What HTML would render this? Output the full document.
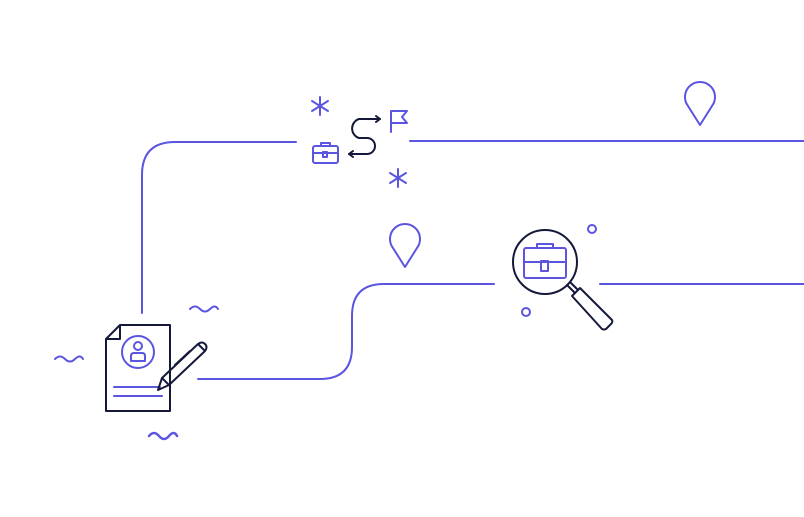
<!DOCTYPE html>
<html><head><style>html,body{margin:0;padding:0;background:#fff;}svg{display:block}</style></head>
<body>
<svg width="804" height="517" viewBox="0 0 804 517" xmlns="http://www.w3.org/2000/svg" fill="none" stroke-linecap="round" stroke-linejoin="round">
<g stroke="#5b55e0" stroke-width="2">
<path d="M142 313 V175 Q142 142 175 142 H296"/>
<path d="M410 141 H804"/>
<path d="M198 379 H320 Q352 379 352 347 V316 Q352 284 384 284 H494"/>
<path d="M600 284 H804"/>
<path d="M700 125 L688 106 A15 15 0 1 1 712 106 Z"/>
<path d="M405 267 L393 248 A15 15 0 1 1 417 248 Z"/>
<circle cx="592" cy="229" r="4"/>
<circle cx="526" cy="312" r="4"/>
<path d="M55 359 q5 -5 10 0 t10 0 t8 0"/>
<path d="M190 309 q5 -5 10 0 t10 0 t8 0"/>
<path d="M149 436 q5 -6 10 0 t10 0 t8 0" stroke-width="2.5"/>
<path d="M320 97 V115 M312 101 L328 111 M312 111 L328 101"/>
<path d="M398 169 V187 M390 173 L406 183 M390 183 L406 173"/>
<path d="M391 132 V111 H407 L402 117 L407 123 H391"/>
<rect x="313" y="146" width="25" height="17" rx="2"/>
<path d="M313 153 H338 M321 146 V143 H330 V146"/>
<rect x="323" y="152" width="4" height="5"/>
<rect x="524" y="248" width="42" height="30" rx="2"/>
<path d="M524 262 H566 M537 248 V244 H553 V248"/>
<rect x="541" y="261" width="7" height="10"/>
<circle cx="138" cy="352" r="16"/>
<circle cx="138" cy="346" r="4"/>
<path d="M131 361 V356 Q131 353 134 353 H142 Q145 353 145 356 V361 Z"/>
<path d="M114 387 H160 M114 396 H162"/>
</g>
<g stroke="#14193a" stroke-width="2">
<path d="M380 119 H359 A10 10 0 0 0 359 138 H367 A8 8 0 0 1 367 154 H349"/>
<path d="M376 116 L380 119 L376 122"/>
<path d="M353 151 L349 154 L353 157"/>
<path d="M120 325 H170 V411 H106 V339 Z M106 339 H120 V325"/>
<path d="M158 390 L162 378 L198 344 L205 351 L169 385 Z M162 378 L169 385 M190 351 L175 365 M198 344 Q202 341 205 344 Q208 347 205 351"/>
<circle cx="545" cy="262" r="32"/>
<path d="M567 285 L575 293 M570 282 L578 290"/>
<path d="M572 296 L580 288 L612 320 Q613 322 611 324 L606 329 Q604 330 602 329 Z"/>
</g>
</svg>
</body></html>
